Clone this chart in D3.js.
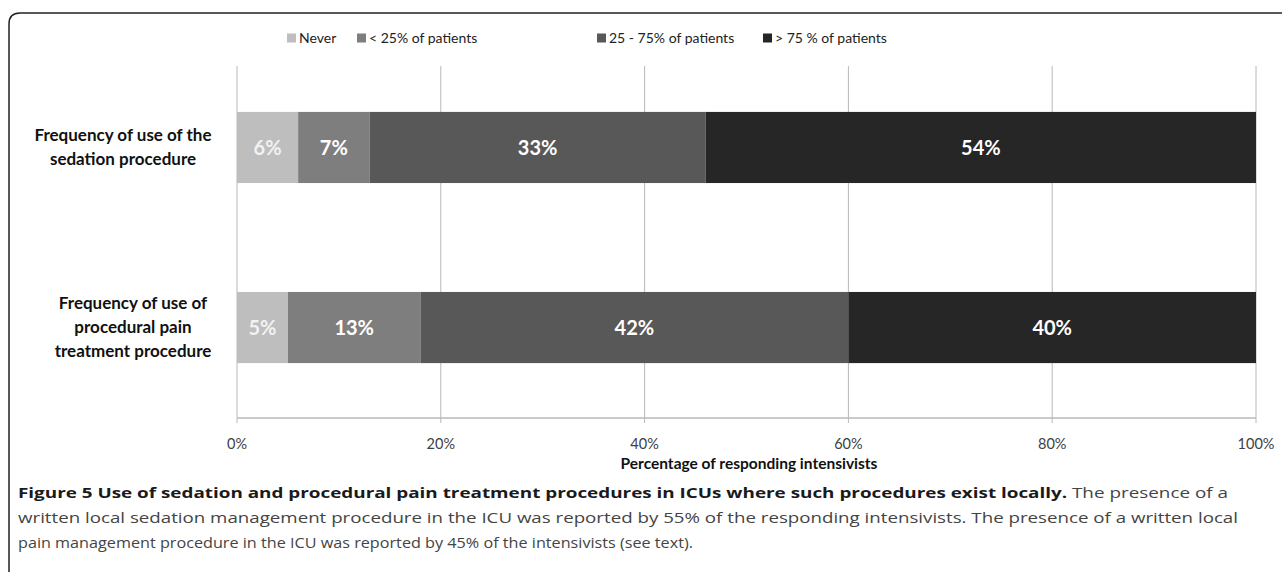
<!DOCTYPE html>
<html>
<head>
<meta charset="utf-8">
<script src="https://cdn.jsdelivr.net/npm/d3@7"></script>
<style>
  body { margin: 0; background: #fff; }
  svg { display: block; }
</style>
</head>
<body>
<svg id="chart" width="1282" height="572"></svg>
<script>
// data
const categories = ['Frequency of use of the sedation procedure', 'Frequency of use of procedural pain treatment procedure'];
const categoryLines = [['Frequency of use of the', 'sedation procedure'], ['Frequency of use of', 'procedural pain', 'treatment procedure']];
const seriesNames = ['Never', '< 25% of patients', '25 - 75% of patients', '> 75 % of patients'];
const never = [6, 5];
const under25 = [7, 13];
const mid = [33, 42];
const over75 = [54, 40];
const xTicks = [0, 20, 40, 60, 80, 100];
const colors = ['#bebebe', '#7e7e7e', '#585858', '#262626'];

const svg = d3.select('#chart');
const plotLeft = 237, plotRight = 1256, plotTop = 57, plotBottom = 418;
const gridTop = 66;
const labelFont = 'Lato, "Open Sans", sans-serif';

// frame round the figure
svg.append('path')
    .attr('d', 'M9,572 L9,24 Q9,13 20,13 L1282,13')
    .attr('fill', 'none')
    .attr('stroke', '#222')
    .attr('stroke-width', 1.5);

let x = d3.scaleLinear().domain([0, 100]).range([plotLeft, plotRight]);
let y = d3.scaleBand().domain(categories).range([plotTop, plotBottom]).paddingInner(0.605).paddingOuter(0.305);

// gridlines
svg.append('g').selectAll('line')
    .data(xTicks)
    .enter().append('line')
    .attr('x1', d => x(d)).attr('x2', d => x(d))
    .attr('y1', gridTop).attr('y2', plotBottom + 5)
    .attr('stroke', '#b8b8b8')
    .attr('stroke-width', 1);

svg.append('line')
    .attr('x1', plotLeft).attr('x2', plotRight)
    .attr('y1', plotBottom).attr('y2', plotBottom)
    .attr('stroke', '#b8b8b8').attr('stroke-width', 1.5);

// stack the series
const rows = categories.map((c, i) => ({cat: c, v: [never[i], under25[i], mid[i], over75[i]]}));
rows.forEach(function (r) {
    let acc = 0;
    r.segs = r.v.map(function (v, k) {
        let s = {cat: r.cat, k: k, x0: acc, x1: acc + v, v: v};
        acc += v;
        return s;
    });
});
const segs = rows.flatMap(r => r.segs);

svg.append('g').selectAll('rect')
    .data(segs)
    .enter().append('rect')
    .attr('x', d => x(d.x0))
    .attr('width', d => x(d.x1) - x(d.x0))
    .attr('y', d => y(d.cat))
    .attr('height', y.bandwidth())
    .attr('fill', d => colors[d.k]);

svg.append('g').selectAll('text')
    .data(segs)
    .enter().append('text')
    .attr('x', d => (x(d.x0) + x(d.x1)) / 2)
    .attr('y', d => y(d.cat) + y.bandwidth() / 2)
    .attr('dy', '0.36em')
    .attr('text-anchor', 'middle')
    .attr('font-family', labelFont)
    .attr('font-weight', 'bold')
    .attr('font-size', 20)
    .attr('fill', d => d.k === 0 ? '#f2f2f2' : '#fff')
    .text(d => d.v + '%');

// category labels
categoryLines.forEach(function (lines, i) {
    let cy = y(categories[i]) + y.bandwidth() / 2;
    let t = svg.append('text')
        .attr('text-anchor', 'middle')
        .attr('font-family', labelFont)
        .attr('font-weight', 'bold')
        .attr('font-size', 17)
        .attr('fill', '#111');
    lines.forEach(function (ln, j) {
        t.append('tspan')
            .attr('x', i === 0 ? 123 : 133)
            .attr('y', cy + (j - (lines.length - 1) / 2) * 24)
            .attr('dy', '0.35em')
            .text(ln);
    });
});

// x axis labels
svg.append('g').selectAll('text')
    .data(xTicks)
    .enter().append('text')
    .attr('x', d => x(d))
    .attr('y', 444)
    .attr('dy', '0.35em')
    .attr('text-anchor', 'middle')
    .attr('font-family', labelFont)
    .attr('font-size', 14.5)
    .attr('fill', '#404040')
    .text(d => d + '%');

svg.append('text')
    .attr('x', 749)
    .attr('y', 464)
    .attr('dy', '0.35em')
    .attr('text-anchor', 'middle')
    .attr('font-family', labelFont)
    .attr('font-weight', 'bold')
    .attr('font-size', 15.5)
    .attr('fill', '#111')
    .text('Percentage of responding intensivists');

// legend
const legendX = [287, 357, 597, 763];
const lg = svg.append('g').selectAll('g')
    .data(seriesNames)
    .enter().append('g')
    .attr('transform', (d, i) => 'translate(' + legendX[i] + ',38)');
lg.append('rect')
    .attr('x', 0).attr('y', -4.5)
    .attr('width', 9).attr('height', 9)
    .attr('fill', (d, i) => colors[i]);
lg.append('text')
    .attr('x', 12)
    .attr('dy', '0.35em')
    .attr('font-family', labelFont)
    .attr('font-size', 14)
    .attr('fill', '#222')
    .text(d => d);

// caption
const caption = [
    {b: 'Figure 5 Use of sedation and procedural pain treatment procedures in ICUs where such procedures exist locally.', r: ' The presence of a', end: 1228},
    {b: '', r: 'written local sedation management procedure in the ICU was reported by 55% of the responding intensivists. The presence of a written local', end: 1238},
    {b: '', r: 'pain management procedure in the ICU was reported by 45% of the intensivists (see text).', end: 693}
];
const capX = 18;
caption.forEach(function (c, i) {
    let t = svg.append('text')
        .attr('x', capX)
        .attr('y', 493 + i * 25)
        .attr('dy', '0.35em')
        .attr('font-family', '"Open Sans", sans-serif')
        .attr('font-size', 15)
        .attr('fill', '#222')
        .attr('textLength', c.end - capX)
        .attr('lengthAdjust', 'spacingAndGlyphs');
    if (c.b) t.append('tspan').attr('font-weight', 'bold').attr('fill', '#1a1a1a').text(c.b);
    t.append('tspan').attr('fill', '#444').text(c.r);
});
</script>
</body>
</html>
